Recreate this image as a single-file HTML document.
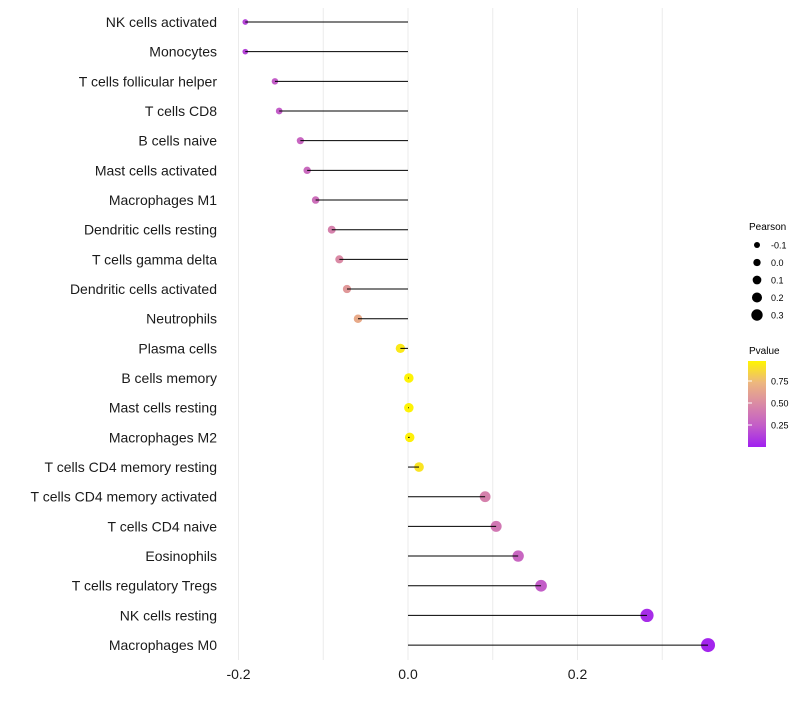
<!DOCTYPE html>
<html><head><meta charset="utf-8"><style>
body{margin:0;background:#fff;font-family:"Liberation Sans",sans-serif}
svg text{font-family:"Liberation Sans",sans-serif}
</style></head><body>
<svg id="chart" width="800" height="700" xmlns="http://www.w3.org/2000/svg">
<defs><linearGradient id="pg" x1="0" y1="1" x2="0" y2="0">
<stop offset="0" stop-color="#A020F0"/><stop offset="0.25" stop-color="#C35DC8"/><stop offset="0.5" stop-color="#DA8AA5"/><stop offset="0.75" stop-color="#EDB77E"/><stop offset="1" stop-color="#FFF500"/>
</linearGradient></defs>
<g id="grid"></g><g id="points"></g><g id="marks"></g><g id="labels"></g><g id="xaxis"></g>
<g id="legend">
<text x="749" y="230" font-size="10">Pearson</text>
<text x="749" y="354" font-size="10">Pvalue</text>
<rect x="748" y="361" width="18" height="86" fill="url(#pg)"/>
</g>
</svg>
<script>
const categories=["NK cells activated","Monocytes","T cells follicular helper","T cells CD8","B cells naive","Mast cells activated","Macrophages M1","Dendritic cells resting","T cells gamma delta","Dendritic cells activated","Neutrophils","Plasma cells","B cells memory","Mast cells resting","Macrophages M2","T cells CD4 memory resting","T cells CD4 memory activated","T cells CD4 naive","Eosinophils","T cells regulatory  Tregs","NK cells resting","Macrophages M0"];
const pearson=[-0.192,-0.192,-0.157,-0.152,-0.127,-0.119,-0.109,-0.090,-0.081,-0.072,-0.059,-0.009,0.001,0.001,0.002,0.013,0.091,0.104,0.130,0.157,0.282,0.354];
const pvalues=[0.15,0.15,0.25,0.25,0.3,0.32,0.35,0.45,0.5,0.58,0.68,0.95,0.99,0.99,0.98,0.93,0.45,0.4,0.3,0.25,0.05,0.02];
const xTicks=[-0.2,0.0,0.2];
const xTickLabels=["-0.2","0.0","0.2"];
const sizeLegend=[-0.1,0.0,0.1,0.2,0.3];
const pTicks=[0.25,0.5,0.75];
const NS="http://www.w3.org/2000/svg";
const xs=v=>408+v*847.5;
const ys=i=>22+i*29.67;
const rs=v=>Math.sqrt(Math.max(22.5+75*v,4));
const rl=v=>3+(v+0.1)*6.75;
const pc=p=>{const s=[[0,[160,32,240]],[0.25,[195,93,200]],[0.5,[218,138,165]],[0.75,[237,183,126]],[1,[255,245,0]]];for(let k=1;k<s.length;k++){if(p<=s[k][0]){const t=(p-s[k-1][0])/(s[k][0]-s[k-1][0]);const c=s[k-1][1].map((a,j)=>Math.round(a+(s[k][1][j]-a)*t));return`rgb(${c})`}}return"rgb(255,245,0)"};
function mk(t,a,parent){const e=document.createElementNS(NS,t);for(const k in a)e.setAttribute(k,a[k]);document.getElementById(parent)?.appendChild(e);return e}
[-0.2,-0.1,0,0.1,0.2,0.3].forEach(v=>{const l=mk("line",{x1:xs(v),x2:xs(v),y1:8,y2:660,stroke:"#ebebeb","stroke-width":1},"grid");

});
categories.forEach((c,i)=>{
 const y=ys(i),v=pearson[i];
 const p=mk("circle",{cx:xs(v),cy:y,r:rs(v),fill:pc(pvalues[i])},"points");
 
 
 const l=mk("line",{x1:xs(0),x2:xs(v),y1:y,y2:y,stroke:"#000","stroke-width":1},"marks");
 
 
 const t=mk("text",{x:217,y:y+5,"text-anchor":"end","font-size":14,fill:"#1a1a1a"},"labels");
 t.textContent=c;
 
 
});
xTicks.forEach((v,i)=>{const t=mk("text",{x:xs(v),y:679,"text-anchor":"middle","font-size":14,fill:"#1a1a1a"},"xaxis");
t.textContent=xTickLabels[i];

});
sizeLegend.forEach((v,i)=>{const y=245+i*17.5;
const c=mk("circle",{cx:757,cy:y,r:rl(v),fill:"#000"},"legend");


const t=mk("text",{x:771,y:y+3.5,"font-size":9},"legend");
t.textContent=v.toFixed(1);

});
pTicks.forEach(p=>{const y=447-p*88;
const l=mk("line",{x1:748,x2:752,y1:y,y2:y,stroke:"#fff"},"legend");


const t=mk("text",{x:771,y:y+3.5,"font-size":9},"legend");
t.textContent=p.toFixed(2);

});
</script>
</body></html>
